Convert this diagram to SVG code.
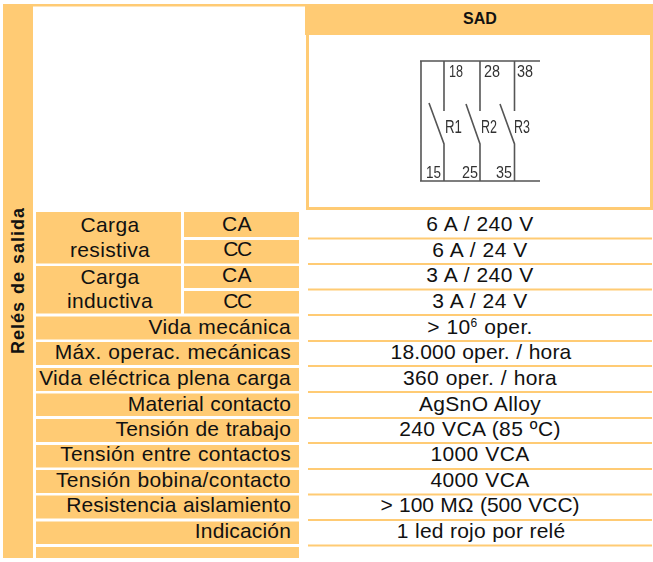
<svg xmlns="http://www.w3.org/2000/svg" width="653" height="562" viewBox="0 0 653 562">
<defs><filter id="b" x="-5%" y="-5%" width="110%" height="110%"><feGaussianBlur stdDeviation="0.35"/></filter></defs>
<style>
.o{fill:#ffcb74}
.t{font-family:"Liberation Sans",Arial,sans-serif;font-size:21px;fill:#111;letter-spacing:.35px;word-spacing:.5px}
.n{letter-spacing:.16px}
.m{text-anchor:middle}
.e{text-anchor:end}
.l{fill:none;stroke:#ffcb74;stroke-width:2}
.w{fill:none;stroke:#555;stroke-width:1.6}
.s{font-family:"Liberation Sans",sans-serif;font-size:16px;fill:#333}
.r{font-size:18px}
</style>
<rect width="653" height="562" fill="#fff"/>
<g id="frame">
<rect class="o" x="3" y="4" width="30" height="554"/>
<rect class="o" x="3" y="4" width="650" height="2.500"/>
<rect class="o" x="305" y="4" width="348" height="31"/>
<rect x="307.500" y="33.500" width="344" height="175" fill="#fff" stroke="#ffcb74" stroke-width="3"/>
<text transform="translate(24 354) rotate(-90)" style="font-family:'Liberation Sans',sans-serif;fill:#111;font-size:18px;font-weight:bold;word-spacing:1px;letter-spacing:1px">Relés de salida</text>
<text class="m" x="480" y="24" style="font-family:'Liberation Sans',sans-serif;fill:#111;font-size:16px;font-weight:bold">SAD</text>
</g>
<g id="schematic" filter="url(#b)">
<path class="w" d="M420 61H540M420 181H540M421 61V181M444 61V111M480 61V111M514.500 61V111M444 181V144L429 103M480 181V144L466 104M514.500 181V144L500 104"/>
<text class="s" x="449" y="77" textLength="14" lengthAdjust="spacingAndGlyphs">18</text>
<text class="s" x="484" y="77" textLength="16" lengthAdjust="spacingAndGlyphs">28</text>
<text class="s" x="517" y="77" textLength="16" lengthAdjust="spacingAndGlyphs">38</text>
<text class="s r" x="445" y="132.500" textLength="17" lengthAdjust="spacingAndGlyphs">R1</text>
<text class="s r" x="481" y="132.500" textLength="16" lengthAdjust="spacingAndGlyphs">R2</text>
<text class="s r" x="514" y="132.500" textLength="16" lengthAdjust="spacingAndGlyphs">R3</text>
<text class="s" x="426" y="178" textLength="15" lengthAdjust="spacingAndGlyphs">15</text>
<text class="s" x="462" y="178" textLength="16" lengthAdjust="spacingAndGlyphs">25</text>
<text class="s" x="496" y="178" textLength="16" lengthAdjust="spacingAndGlyphs">35</text>
</g>
<g id="rows">
<rect class="o" x="36" y="212" width="145" height="51.500"/>
<rect class="o" x="184" y="212" width="115" height="25"/>
<rect class="o" x="184" y="240" width="115" height="23.500"/>
<rect class="o" x="36" y="266" width="145" height="47.500"/>
<rect class="o" x="184" y="266" width="115" height="22"/>
<rect class="o" x="184" y="291" width="115" height="22.500"/>
<rect class="o" x="36" y="316.500" width="263" height="23"/>
<rect class="o" x="36" y="342" width="263" height="23"/>
<rect class="o" x="36" y="368" width="263" height="23"/>
<rect class="o" x="36" y="393.500" width="263" height="22.500"/>
<rect class="o" x="36" y="419" width="263" height="23"/>
<rect class="o" x="36" y="445" width="263" height="22.500"/>
<rect class="o" x="36" y="470" width="263" height="23"/>
<rect class="o" x="36" y="495.500" width="263" height="23"/>
<rect class="o" x="36" y="521.500" width="263" height="22.500"/>
<rect class="o" x="36" y="547" width="263" height="11"/>
<path class="l" d="M308 238.500H652M308 264H652M308 289.500H652M308 315H652M308 341H652M308 366H652M308 392H652M308 418H652M308 443H652M308 469H652M308 494.500H652M308 520H652M308 545.500H652"/>
<text class="t m" x="110" y="232">Carga</text>
<text class="t m" x="110" y="257">resistiva</text>
<text class="t m" x="110" y="284">Carga</text>
<text class="t m" x="110" y="308">inductiva</text>
<text class="t m" x="237" y="231">CA</text>
<text class="t m" x="237" y="256" style="letter-spacing:-1.5px">CC</text>
<text class="t m" x="237" y="282">CA</text>
<text class="t m" x="237" y="308" style="letter-spacing:-1.5px">CC</text>
<text class="t e" x="291" y="334">Vida mecánica</text>
<text class="t e" x="291" y="359">Máx. operac. mecánicas</text>
<text class="t e" x="291" y="385">Vida eléctrica plena carga</text>
<text class="t e n" x="291" y="411">Material contacto</text>
<text class="t e n" x="291" y="436">Tensión de trabajo</text>
<text class="t e" x="291" y="461">Tensión entre contactos</text>
<text class="t e" x="291" y="487">Tensión bobina/contacto</text>
<text class="t e n" x="291" y="512">Resistencia aislamiento</text>
<text class="t e n" x="291" y="538">Indicación</text>
<text class="t m" x="480" y="231">6 A / 240 V</text>
<text class="t m" x="480" y="257">6 A / 24 V</text>
<text class="t m" x="480" y="282">3 A / 240 V</text>
<text class="t m" x="480" y="308">3 A / 24 V</text>
<text class="t m" x="480" y="334">&gt; 10<tspan dy="-7" style="font-size:12px">6</tspan><tspan dy="7"> oper.</tspan></text>
<text class="t m n" x="481" y="359">18.000 oper. / hora</text>
<text class="t m" x="480" y="385">360 oper. / hora</text>
<text class="t m" x="480" y="411">AgSnO Alloy</text>
<text class="t m" x="480" y="436">240 VCA (85 ºC)</text>
<text class="t m" x="480" y="461">1000 VCA</text>
<text class="t m" x="480" y="487">4000 VCA</text>
<text class="t m" x="480" y="512" style="letter-spacing:0">&gt; 100 MΩ (500 VCC)</text>
<text class="t m n" x="481" y="538">1 led rojo por relé</text>
</g>
</svg>
